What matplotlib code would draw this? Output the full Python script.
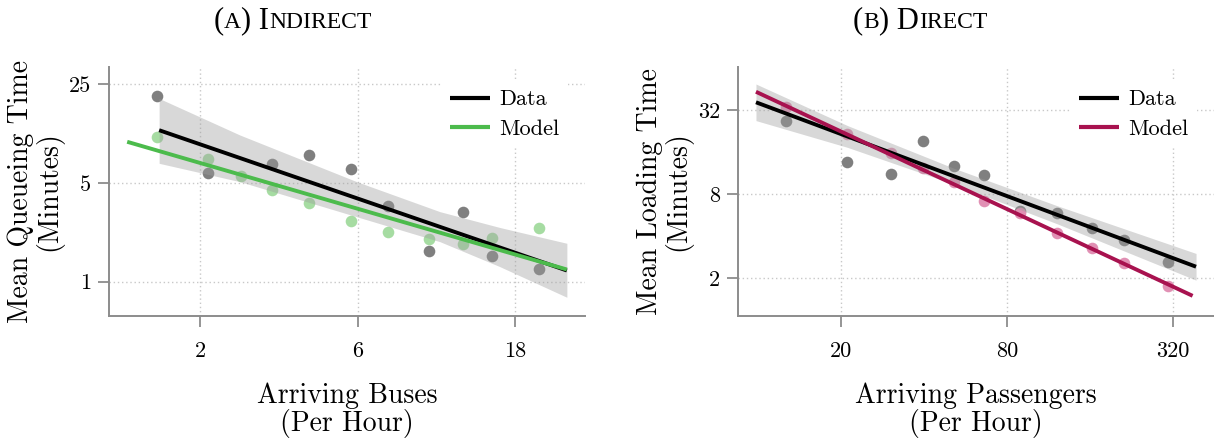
import numpy as np
import matplotlib
matplotlib.use("Agg")
import matplotlib.pyplot as plt
from matplotlib.ticker import FixedLocator, FixedFormatter, NullLocator

# ---------------- Panel A: Indirect ----------------
a_data_x = [1.48, 2.11, 3.29, 4.28, 5.72, 7.43, 9.90, 12.55, 15.4, 21.3]
a_data_y = [20.6, 5.84, 6.80, 7.83, 6.24, 3.43, 1.65, 3.13, 1.51, 1.24]
a_model_x = [1.48, 2.11, 2.65, 3.29, 4.28, 5.72, 7.43, 9.90, 12.55, 15.4, 21.3]
a_model_y = [10.5, 7.38, 5.64, 4.45, 3.58, 2.70, 2.25, 2.01, 1.84, 2.03, 2.41]
a_data_fit_x = [1.50, 25.9]
a_data_fit_y = [11.8, 1.20]
a_model_fit_x = [1.20, 25.9]
a_model_fit_y = [9.77, 1.22]
a_band_x = [1.50, 2.64, 5.97, 10.67, 16.2, 25.9]
a_band_lo = [6.88, 5.10, 2.88, 1.92, 1.28, 0.776]
a_band_hi = [19.8, 10.9, 5.10, 3.13, 2.42, 1.87]
a_xticks = [2, 6, 18]
a_yticks = [1, 5, 25]

# ---------------- Panel B: Direct ----------------
b_x = [12.6, 21.1, 30.3, 39.8, 51.4, 66.2, 89.3, 122, 162.5, 213, 308]
b_data_y = [26.7, 13.5, 11.1, 19.1, 12.7, 10.9, 6.07, 5.88, 4.54, 3.74, 2.59]
b_model_y = [33.8, 21.5, 15.8, 12.2, 9.8, 7.16, 5.88, 4.18, 3.27, 2.55, 1.75]
b_data_fit_x = [9.83, 389]
b_data_fit_y = [36.4, 2.41]
b_model_fit_x = [9.83, 378]
b_model_fit_y = [43.3, 1.49]
b_band_x = [9.83, 21.1, 51.4, 122, 389]
b_band_lo = [26.9, 17.3, 9.41, 4.89, 1.93]
b_band_hi = [49.2, 24.8, 12.25, 6.59, 3.00]
b_xticks = [20, 80, 320]
b_yticks = [2, 8, 32]

plt.rcParams["font.family"] = "cmr10"
plt.rcParams["mathtext.fontset"] = "cm"
plt.rcParams["axes.unicode_minus"] = False

W, H = 1214, 440
fig = plt.figure(figsize=(W / 100, H / 100), dpi=100)

SPINE = "#8c8c8c"
GREEN = "#4cbb4c"
PINK = "#a8124f"
GRAY_PT = "#7f7f7f"


def px_axes(x0, y0, x1, y1):
    return fig.add_axes([x0 / W, 1 - y1 / H, (x1 - x0) / W, (y1 - y0) / H])


def style(ax, xlim, ylim, xt, yt):
    ax.set_xscale("log")
    ax.set_yscale("log")
    ax.set_xlim(*xlim)
    ax.set_ylim(*ylim)
    ax.xaxis.set_major_locator(FixedLocator(xt))
    ax.xaxis.set_major_formatter(FixedFormatter([str(v) for v in xt]))
    ax.yaxis.set_major_locator(FixedLocator(yt))
    ax.yaxis.set_major_formatter(FixedFormatter([str(v) for v in yt]))
    ax.xaxis.set_minor_locator(NullLocator())
    ax.yaxis.set_minor_locator(NullLocator())
    for s in ["top", "right"]:
        ax.spines[s].set_visible(False)
    for s in ["left", "bottom"]:
        ax.spines[s].set_color(SPINE)
        ax.spines[s].set_linewidth(1.4)
    ax.tick_params(axis="both", which="major", direction="out", length=8,
                   width=1.3, color=SPINE, labelsize=16)
    ax.tick_params(axis="x", pad=10)
    ax.tick_params(axis="y", pad=5)
    ax.grid(True, which="major", color="#c8c8c8", lw=1.0, ls=(0, (1, 2)))
    ax.set_axisbelow(True)


def panel(ax, dx, dy, mx, my, fdx, fdy, fmx, fmy, bx, blo, bhi, mcolor, mptcolor):
    ax.scatter(dx, dy, s=70, color=GRAY_PT, lw=0, zorder=2)
    ax.scatter(mx, my, s=70, color=mptcolor, lw=0, zorder=2)
    ax.fill_between(bx, blo, bhi, color="#9e9e9e", alpha=0.4, lw=0, zorder=3)
    ax.plot(fdx, fdy, color="black", lw=2.8, zorder=4, label="Data",
            solid_capstyle="butt")
    ax.plot(fmx, fmy, color=mcolor, lw=2.8, zorder=5, label="Model",
            solid_capstyle="butt")
    leg = ax.legend(loc="upper right", bbox_to_anchor=(1 - 17 / 476, 0.943),
                    borderaxespad=0, fontsize=16, handlelength=1.8,
                    handletextpad=0.4, labelspacing=0.44, borderpad=0.4,
                    frameon=True, fancybox=False, framealpha=1,
                    facecolor="white", edgecolor="none")
    leg.set_zorder(10)
    for h in leg.get_lines():
        h.set_linewidth(3.0)


axA = px_axes(109.3, 66.7, 585, 316)
style(axA, (1.059, 29.4), (0.572, 33.2), a_xticks, a_yticks)
panel(axA, a_data_x, a_data_y, a_model_x, a_model_y, a_data_fit_x, a_data_fit_y,
      a_model_fit_x, a_model_fit_y, a_band_x, a_band_lo, a_band_hi, GREEN, "#a6dca2")

axB = px_axes(738.3, 66.7, 1214, 316)
style(axB, (8.48, 452), (1.068, 65.5), b_xticks, b_yticks)
panel(axB, b_x, b_data_y, b_x, b_model_y, b_data_fit_x, b_data_fit_y,
      b_model_fit_x, b_model_fit_y, b_band_x, b_band_lo, b_band_hi, PINK, "#e190b4")

# axis labels
LS = 1.0
fig.text(347.2 / W, 1 - 410 / H, "Arriving Buses\n(Per Hour)", ha="center",
         va="center", fontsize=20, linespacing=LS, multialignment="center")
fig.text(976.2 / W, 1 - 410 / H, "Arriving Passengers\n(Per Hour)", ha="center",
         va="center", fontsize=20, linespacing=LS, multialignment="center")
fig.text(35.5 / W, 1 - 191.3 / H, "Mean Queueing Time\n(Minutes)", ha="center",
         va="center", rotation=90, fontsize=20, linespacing=LS,
         multialignment="center")
fig.text(664.5 / W, 1 - 191.3 / H, "Mean Loading Time\n(Minutes)", ha="center",
         va="center", rotation=90, fontsize=20, linespacing=LS,
         multialignment="center")

# small-caps titles
renderer = fig.canvas.get_renderer()


def smallcaps(xc_px, base_px, parts, big=22, small=17, family="Liberation Serif"):
    texts = []
    for s, isbig in parts:
        t = fig.text(0, 1 - base_px / H, s, fontsize=big if isbig else small,
                     family=family, ha="left", va="baseline")
        texts.append(t)
    widths = [t.get_window_extent(renderer).width for t in texts]
    x = xc_px - sum(widths) / 2
    for t, w in zip(texts, widths):
        t.set_x(x / W)
        x += w


smallcaps(292.5, 28, [("(", True), ("A", False), (") I", True), ("NDIRECT", False)])
smallcaps(920, 28, [("(", True), ("B", False), (") D", True), ("IRECT", False)])

fig.savefig("out.png", dpi=100)
